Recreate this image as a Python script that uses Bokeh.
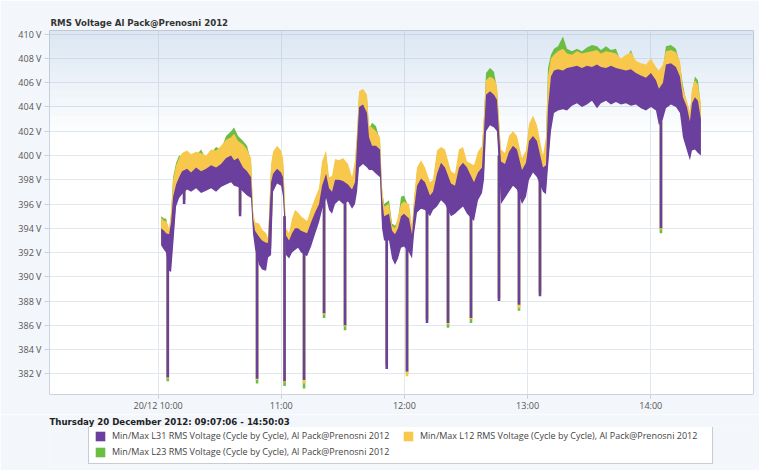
from bokeh.plotting import figure
from bokeh.layouts import column
from bokeh.models import (ColumnDataSource, FixedTicker, PrintfTickFormatter, Legend,
                          LegendItem, BoxAnnotation, Range1d)
from bokeh.embed import file_html
from bokeh.resources import INLINE

title_text = "RMS Voltage Al Pack@Prenosni 2012"
subtitle_text = "Thursday 20 December 2012: 09:07:06 - 14:50:03"
series_names = ["Min/Max L31 RMS Voltage (Cycle by Cycle), Al Pack@Prenosni 2012",
                "Min/Max L12 RMS Voltage (Cycle by Cycle), Al Pack@Prenosni 2012",
                "Min/Max L23 RMS Voltage (Cycle by Cycle), Al Pack@Prenosni 2012"]
x_start, x_end = "09:07:06", "14:50:03"
x_tick_times = ["10:00:00", "11:00:00", "12:00:00", "13:00:00", "14:00:00"]
x_tick_labels = ["20/12 10:00", "11:00", "12:00", "13:00", "14:00"]
y_ticks = [382, 384, 386, 388, 390, 392, 394, 396, 398, 400, 402, 404, 406, 408, 410]
y_start, y_end = 380.3, 410.3

times = ["10:01:28", "10:02:55", "10:03:54", "10:05:21", "10:06:20", "10:07:18", "10:08:46", "10:10:14",
         "10:11:41", "10:14:07", "10:16:04", "10:18:30", "10:20:56", "10:23:23", "10:25:49", "10:28:15",
         "10:30:41", "10:33:07", "10:35:33", "10:37:01", "10:38:58", "10:41:24", "10:43:20", "10:45:17",
         "10:46:16", "10:47:14", "10:49:11", "10:50:39", "10:52:36", "10:53:34", "10:55:02", "10:56:00",
         "10:57:57", "10:59:54", "11:00:53", "11:02:20", "11:03:48", "11:05:15", "11:06:43", "11:08:11",
         "11:09:38", "11:12:34", "11:14:31", "11:16:27", "11:18:24", "11:19:52", "11:21:49", "11:23:17",
         "11:24:44", "11:26:12", "11:28:09", "11:30:06", "11:32:32", "11:34:29", "11:35:56", "11:36:55",
         "11:37:53", "11:39:50", "11:41:47", "11:42:45", "11:44:13", "11:46:10", "11:48:07", "11:49:05",
         "11:50:04", "11:52:30", "11:53:58", "11:55:25", "11:56:53", "11:58:20", "11:59:48", "12:02:14",
         "12:03:42", "12:04:40", "12:06:08", "12:08:05", "12:10:02", "12:12:28", "12:13:56", "12:15:52",
         "12:17:49", "12:19:46", "12:22:41", "12:24:38", "12:26:35", "12:28:32", "12:30:29", "12:33:53",
         "12:35:50", "12:37:47", "12:38:46", "12:39:44", "12:41:41", "12:43:38", "12:45:05", "12:47:02",
         "12:48:59", "12:50:56", "12:52:53", "12:54:50", "12:57:16", "12:59:13", "13:00:41", "13:02:38",
         "13:04:34", "13:07:30", "13:08:57", "13:09:56", "13:11:23", "13:12:51", "13:14:48", "13:17:14",
         "13:19:11", "13:21:37", "13:24:03", "13:26:29", "13:28:55", "13:31:22", "13:33:47", "13:35:44",
         "13:38:11", "13:40:37", "13:43:03", "13:45:29", "13:47:55", "13:50:21", "13:52:47", "13:55:13",
         "13:57:40", "14:00:05", "14:02:32", "14:03:59", "14:05:56", "14:07:24", "14:09:50", "14:12:16",
         "14:14:13", "14:15:41", "14:17:37", "14:19:05", "14:20:04", "14:21:31", "14:22:59", "14:24:26"]

l31_min = [392.6, 392.2, 392.0, 390.5, 390.4, 392.5, 395.8, 396.5, 396.8, 397.2, 397.0, 397.3, 396.9, 397.1,
           397.3, 397.0, 397.4, 397.6, 397.8, 397.5, 397.4, 397.0, 396.7, 396.5, 393.5, 392.3, 391.0, 390.6,
           390.5, 391.6, 391.8, 397.0, 397.7, 397.5, 396.6, 391.8, 391.5, 392.0, 392.2, 392.4, 392.0, 391.7,
           392.5, 393.5, 394.5, 395.5, 396.5, 395.5, 395.2, 396.0, 396.3, 396.0, 396.2, 395.6, 396.0, 397.0,
           399.0, 399.3, 399.0, 398.8, 398.8, 398.5, 398.2, 394.0, 393.0, 393.0, 391.5, 391.0, 391.5, 392.4,
           392.5, 392.0, 391.5, 393.5, 395.3, 395.6, 395.5, 395.0, 395.5, 395.8, 396.3, 396.0, 395.0, 395.2,
           395.5, 395.8, 395.2, 394.6, 396.3, 396.9, 398.0, 402.0, 402.5, 402.3, 402.0, 396.0, 396.5, 397.0,
           397.5, 397.2, 396.0, 396.6, 398.0, 398.6, 398.2, 397.0, 396.8, 399.0, 402.0, 403.5, 403.7, 403.8,
           403.7, 404.1, 404.3, 404.0, 404.2, 404.5, 403.9, 404.3, 404.5, 404.2, 404.4, 404.2, 404.3, 404.1,
           404.2, 403.9, 403.7, 404.0, 403.7, 402.5, 403.0, 403.9, 404.2, 404.0, 403.5, 401.5, 400.4, 399.6,
           400.4, 400.5, 400.2, 400.0]
l31_max = [394.0, 393.8, 393.6, 393.5, 394.5, 396.6, 397.6, 398.2, 398.7, 398.9, 398.6, 399.0, 398.7, 398.9,
           399.2, 399.0, 399.3, 399.8, 400.0, 399.6, 399.8, 399.0, 398.7, 398.2, 394.8, 393.8, 393.3, 393.0,
           392.8, 392.8, 397.8, 398.5, 398.9, 398.6, 398.2, 393.4, 393.0, 393.6, 394.0, 394.0, 393.8, 393.6,
           394.5, 395.3, 396.0, 397.5, 398.5, 397.3, 397.0, 398.0, 398.0, 397.9, 397.6, 397.2, 397.8, 401.0,
           404.0, 404.2, 403.5, 401.5, 400.8, 400.8, 400.5, 396.5, 395.0, 395.2, 393.8, 393.5, 394.0, 395.0,
           395.2, 394.8, 393.5, 395.5, 397.5, 398.1, 397.8, 396.7, 397.0, 398.5, 399.4, 399.0, 397.7, 397.5,
           399.0, 399.4, 399.0, 397.8, 398.6, 399.0, 402.0, 405.0, 405.3, 405.0, 404.6, 399.5, 399.3, 400.3,
           400.8, 400.5, 398.8, 399.4, 401.2, 401.6, 401.2, 399.0, 399.2, 404.0, 406.5, 407.0, 407.1, 407.0,
           407.2, 407.3, 407.4, 407.2, 407.4, 407.3, 407.5, 407.3, 407.2, 407.4, 407.2, 407.1, 407.0, 407.1,
           406.8, 406.6, 406.4, 406.8, 406.2, 405.5, 406.0, 407.5, 407.6, 407.3, 406.5, 404.8, 404.0, 402.8,
           404.3, 404.8, 404.5, 403.0]
l12_min = [393.0, 392.6, 392.4, 390.9, 390.8, 392.9, 396.2, 396.9, 397.2, 397.6, 397.4, 397.7, 397.3, 397.5,
           397.7, 397.4, 397.8, 398.0, 398.2, 397.9, 397.8, 397.4, 397.1, 396.9, 393.9, 392.7, 391.4, 391.0,
           390.9, 392.0, 392.2, 397.4, 398.1, 397.9, 397.0, 392.2, 391.9, 392.4, 392.6, 392.8, 392.4, 392.1,
           392.9, 393.9, 394.9, 395.9, 396.9, 395.9, 395.6, 396.4, 396.7, 396.4, 396.6, 396.0, 396.4, 397.4,
           399.4, 399.7, 399.4, 399.2, 399.2, 398.9, 398.6, 394.4, 393.4, 393.4, 391.9, 391.4, 391.9, 392.8,
           392.9, 392.4, 391.9, 393.9, 395.7, 396.0, 395.9, 395.4, 395.9, 396.2, 396.7, 396.4, 395.4, 395.6,
           395.9, 396.2, 395.6, 395.0, 396.7, 397.3, 398.4, 402.4, 402.9, 402.7, 402.4, 396.4, 396.9, 397.4,
           397.9, 397.6, 396.4, 397.0, 398.4, 399.0, 398.6, 397.4, 397.2, 399.4, 402.4, 403.9, 404.1, 404.2,
           404.1, 404.5, 404.7, 404.4, 404.6, 404.9, 404.3, 404.7, 404.9, 404.6, 404.8, 404.6, 404.7, 404.5,
           404.6, 404.3, 404.1, 404.4, 404.1, 402.9, 403.4, 404.3, 404.6, 404.4, 403.9, 401.9, 400.8, 400.0,
           400.8, 400.9, 400.6, 400.4]
l12_max = [394.9, 394.6, 394.6, 394.0, 395.5, 398.0, 399.2, 399.8, 400.2, 400.4, 400.1, 400.3, 400.2, 400.0,
           400.5, 400.4, 400.8, 401.3, 401.5, 401.8, 401.2, 400.9, 400.5, 399.8, 395.5, 394.5, 394.4, 393.9,
           393.6, 393.2, 399.3, 400.3, 400.8, 400.4, 399.8, 394.0, 393.6, 394.8, 395.5, 395.3, 395.0, 394.6,
           395.6, 396.5, 397.3, 399.5, 400.4, 398.2, 398.3, 399.7, 399.6, 399.8, 399.3, 398.2, 399.6, 402.0,
           405.3, 405.5, 405.0, 402.5, 402.3, 402.0, 401.5, 397.5, 395.8, 396.0, 394.2, 394.0, 395.0, 396.0,
           396.2, 396.0, 394.2, 396.5, 399.0, 399.6, 399.0, 397.8, 398.0, 400.4, 400.7, 400.5, 398.7, 398.5,
           400.5, 400.7, 399.5, 399.2, 400.3, 400.8, 403.5, 406.2, 406.5, 406.3, 405.8, 400.5, 400.2, 401.6,
           402.0, 401.6, 399.8, 400.4, 402.6, 403.3, 402.5, 400.0, 401.5, 406.5, 408.0, 408.3, 408.6, 408.8,
           408.4, 408.3, 408.6, 408.4, 408.5, 408.6, 408.7, 408.4, 408.6, 408.5, 408.4, 408.0, 408.3, 408.5,
           407.8, 407.6, 407.5, 408.0, 407.3, 407.0, 407.5, 408.6, 408.7, 408.5, 407.8, 405.5, 404.5, 403.6,
           405.5, 406.2, 405.8, 404.3]
l23_min = [393.2, 392.8, 392.6, 391.1, 391.0, 393.1, 396.4, 397.1, 397.4, 397.8, 397.6, 397.9, 397.5, 397.7,
           397.9, 397.6, 398.0, 398.2, 398.4, 398.1, 398.0, 397.6, 397.3, 397.1, 394.1, 392.9, 391.6, 391.2,
           391.1, 392.2, 392.4, 397.6, 398.3, 398.1, 397.2, 392.4, 392.1, 392.6, 392.8, 393.0, 392.6, 392.3,
           393.1, 394.1, 395.1, 396.1, 397.1, 396.1, 395.8, 396.6, 396.9, 396.6, 396.8, 396.2, 396.6, 397.6,
           399.6, 399.9, 399.6, 399.4, 399.4, 399.1, 398.8, 394.6, 393.6, 393.6, 392.1, 391.6, 392.1, 393.0,
           393.1, 392.6, 392.1, 394.1, 395.9, 396.2, 396.1, 395.6, 396.1, 396.4, 396.9, 396.6, 395.6, 395.8,
           396.1, 396.4, 395.8, 395.2, 396.9, 397.5, 398.6, 402.6, 403.1, 402.9, 402.6, 396.6, 397.1, 397.6,
           398.1, 397.8, 396.6, 397.2, 398.6, 399.2, 398.8, 397.6, 397.4, 399.6, 402.6, 404.1, 404.3, 404.4,
           404.3, 404.7, 404.9, 404.6, 404.8, 405.1, 404.5, 404.9, 405.1, 404.8, 405.0, 404.8, 404.9, 404.7,
           404.8, 404.5, 404.3, 404.6, 404.3, 403.1, 403.6, 404.5, 404.8, 404.6, 404.1, 402.1, 401.0, 400.2,
           401.0, 401.1, 400.8, 400.6]
l23_max = [395.0, 394.8, 394.8, 393.7, 395.2, 398.2, 399.4, 400.0, 399.9, 400.1, 399.8, 400.0, 400.5, 399.7,
           400.2, 400.7, 400.5, 401.6, 402.0, 402.3, 401.6, 401.2, 400.8, 399.5, 395.2, 394.2, 394.1, 393.6,
           393.3, 393.0, 399.0, 400.0, 400.5, 400.1, 399.5, 393.7, 393.3, 394.5, 395.2, 395.0, 394.7, 394.3,
           395.3, 396.2, 397.0, 399.2, 400.1, 397.9, 398.0, 399.4, 399.3, 399.5, 399.0, 397.9, 399.3, 401.7,
           405.0, 405.2, 404.7, 402.2, 402.7, 402.4, 401.2, 397.2, 396.0, 396.3, 394.4, 394.2, 394.7, 396.6,
           396.7, 395.7, 393.9, 396.2, 398.7, 399.3, 398.7, 397.5, 397.7, 400.1, 400.4, 400.2, 398.4, 398.2,
           400.2, 400.4, 399.2, 398.9, 400.0, 400.5, 403.2, 406.8, 407.2, 406.9, 405.5, 400.2, 399.9, 401.3,
           401.7, 401.3, 399.5, 400.1, 402.3, 403.0, 402.2, 399.7, 401.2, 407.2, 408.3, 408.8, 409.0, 409.8,
           408.8, 408.6, 408.8, 408.6, 408.9, 409.1, 409.0, 408.7, 409.0, 408.7, 408.8, 407.7, 408.0, 408.7,
           407.5, 407.3, 407.2, 407.7, 407.0, 406.7, 407.2, 409.0, 409.1, 408.8, 407.5, 405.8, 404.2, 403.3,
           405.2, 406.5, 406.2, 404.0]

dip_times = ["10:04:43", "10:12:40", "10:39:56", "10:48:13", "11:01:36", "11:11:06", "11:20:51", "11:31:04",
             "11:51:23", "12:01:16", "12:11:00", "12:21:14", "12:32:26", "12:46:04", "12:55:49", "13:06:02",
             "14:04:58"]
dip_top = [392.5, 397.5, 398.0, 392.5, 395.0, 392.5, 396.8, 396.8, 394.0, 393.5, 396.0, 397.0, 396.5,
           400.0, 398.0, 399.0, 404.0]
dip_l31_min = [381.7, 396.0, 395.0, 381.6, 381.4, 381.5, 387.0, 386.0, 382.4, 382.2, 386.2, 386.2, 386.6,
               388.0, 387.7, 388.4, 394.0]
dip_l12_min = [381.6, 396.3, 395.3, 381.5, 381.3, 381.2, 386.9, 385.9, 382.6, 381.8, 386.4, 386.1, 386.5,
               388.2, 387.4, 388.6, 393.9]
dip_l23_min = [381.4, 396.4, 395.4, 381.2, 381.0, 380.8, 386.6, 385.6, 382.7, 382.0, 386.5, 385.8, 386.2,
               388.3, 387.2, 388.7, 393.6]


def minutes(t):
    h, m, s = (int(v) for v in t.split(":"))
    return (h - 10) * 60 + m + s / 60.0


PURPLE, YELLOW, GREEN = "#6a3f9e", "#f8c84c", "#6cbd45"
TICK_FONT = "Open Sans"
PANEL_BG = "#f3f6fa"

src = ColumnDataSource(dict(t=[minutes(t) for t in times],
                            l31_min=l31_min, l31_max=l31_max,
                            l12_min=l12_min, l12_max=l12_max,
                            l23_min=l23_min, l23_max=l23_max))
dips = ColumnDataSource(dict(t=[minutes(t) for t in dip_times], top=dip_top,
                             l31=dip_l31_min, l12=dip_l12_min, l23=dip_l23_min))

# ---------------- main chart ----------------
p = figure(width=759, height=414, output_backend="svg", toolbar_location=None,
           x_range=Range1d(minutes(x_start), minutes(x_end)), y_range=Range1d(y_start, y_end),
           min_border_left=49, min_border_right=6, min_border_top=30, min_border_bottom=20)

p.title.text = title_text
p.title.text_font = "DejaVu Sans"
p.title.text_font_style = "bold"
p.title.text_font_size = "8.6px"
p.title.text_color = "#333333"
p.title.standoff = 6
p.title.offset = 1

p.background_fill_color = "white"
p.border_fill_color = PANEL_BG
p.outline_line_color = "#cbd4de"

for b in [409.6, 408.9, 408.2, 407.5, 406.8, 406.1, 405.4, 404.7, 404.0, 403.3, 402.6, 401.9]:
    p.add_layout(BoxAnnotation(bottom=b, fill_color="#a8c4e4", fill_alpha=0.03,
                               line_color=None, level="underlay"))

g = p.varea(x="t", y1="l23_min", y2="l23_max", source=src, fill_color=GREEN)
p.segment(x0="t", x1="t", y0="l23", y1="top", source=dips, line_color=GREEN, line_width=2.6)
yl = p.varea(x="t", y1="l12_min", y2="l12_max", source=src, fill_color=YELLOW)
p.segment(x0="t", x1="t", y0="l12", y1="top", source=dips, line_color=YELLOW, line_width=2.6)
pu = p.varea(x="t", y1="l31_min", y2="l31_max", source=src, fill_color=PURPLE)
p.segment(x0="t", x1="t", y0="l31", y1="top", source=dips, line_color=PURPLE, line_width=2.6)

tick_mins = [minutes(t) for t in x_tick_times]
p.xaxis.ticker = FixedTicker(ticks=tick_mins)
p.xaxis.major_label_overrides = {m: lab for m, lab in zip(tick_mins, x_tick_labels)}
p.yaxis.ticker = FixedTicker(ticks=y_ticks)
p.yaxis.formatter = PrintfTickFormatter(format="%d V")

for ax in (p.xaxis[0], p.yaxis[0]):
    ax.axis_line_color = None
    ax.major_tick_line_color = "#c8d1da"
    ax.major_tick_out = 5
    ax.major_tick_in = 0
    ax.minor_tick_line_color = None
    ax.major_label_text_font = TICK_FONT
    ax.major_label_text_font_size = "9px"
    ax.major_label_text_color = "#555555"
p.xaxis.major_tick_out = 4
p.xaxis.major_label_standoff = 0
p.yaxis.major_label_standoff = 3

p.xgrid.grid_line_color = "#e1e7ee"
p.ygrid.grid_line_color = "#e1e7ee"

# ---------------- subtitle + legend strip ----------------
lf = figure(width=759, height=56, output_backend="svg", toolbar_location=None,
            x_range=Range1d(0, 1), y_range=Range1d(0, 1),
            x_axis_location=None, y_axis_location=None,
            min_border_left=49, min_border_right=6, min_border_top=13, min_border_bottom=4)
lf.grid.visible = False
lf.outline_line_color = None
lf.background_fill_color = PANEL_BG
lf.border_fill_color = PANEL_BG
lf.title.text = subtitle_text
lf.title.text_font = "DejaVu Sans"
lf.title.text_font_style = "bold"
lf.title.text_font_size = "8.6px"
lf.title.text_color = "#222222"
lf.title.standoff = 1
lf.title.offset = 0

# legend swatches reuse the same series (their data lies outside this strip's ranges)
lg = lf.varea(x="t", y1="l23_min", y2="l23_max", source=src, fill_color=GREEN)
ly = lf.varea(x="t", y1="l12_min", y2="l12_max", source=src, fill_color=YELLOW)
lp = lf.varea(x="t", y1="l31_min", y2="l31_max", source=src, fill_color=PURPLE)

legend = Legend(items=[LegendItem(label=series_names[0], renderers=[lp]),
                       LegendItem(label=series_names[1], renderers=[ly]),
                       LegendItem(label=series_names[2], renderers=[lg])],
                orientation="horizontal", ncols=2, location=(39, 2),
                glyph_width=12, glyph_height=12, label_standoff=6, label_width=287, label_height=12,
                spacing=3, padding=5, margin=0,
                label_text_font=TICK_FONT, label_text_font_size="9px", label_text_color="#444444",
                border_line_color="#8e9aa6", border_line_width=1, background_fill_color="white",
                background_fill_alpha=1)
lf.add_layout(legend)

layout = column(p, lf, spacing=0)

open("out.html", "w").write(file_html(layout, INLINE))
